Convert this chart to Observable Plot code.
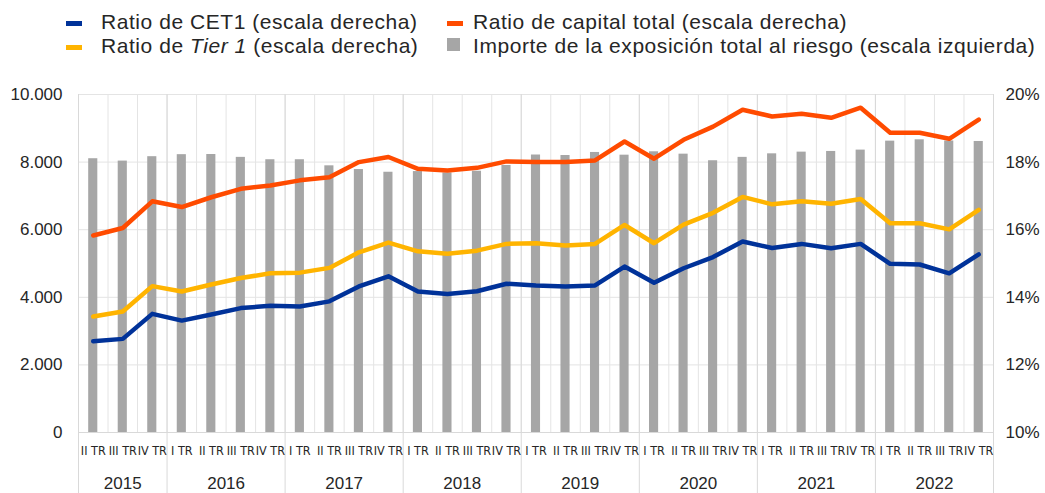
<!DOCTYPE html>
<html>
<head>
<meta charset="utf-8">
<script src="https://cdn.jsdelivr.net/npm/d3@7"></script>
<script src="https://cdn.jsdelivr.net/npm/@observablehq/plot@0.6"></script>
<style>
  html, body { margin: 0; padding: 0; background: #fff; }
  #wrap { position: relative; width: 1045px; height: 493px; font-family: "Liberation Sans", Arial, sans-serif; color: #262626; }
  #legend { position: absolute; left: 0; top: 0; width: 1045px; height: 60px; }
  .item { position: absolute; font-size: 21px; letter-spacing: 0.55px; white-space: nowrap; line-height: 21px; }
  .sw { position: absolute; }
  #chart { position: absolute; left: 0; top: 60px; }
</style>
</head>
<body>
<div id="wrap">
  <div id="legend"></div>
  <div id="chart"></div>
</div>
<script>
// ---- Data ----
const quarterLabels = [
  "II TR","III TR","IV TR",
  "I TR","II TR","III TR","IV TR",
  "I TR","II TR","III TR","IV TR",
  "I TR","II TR","III TR","IV TR",
  "I TR","II TR","III TR","IV TR",
  "I TR","II TR","III TR","IV TR",
  "I TR","II TR","III TR","IV TR",
  "I TR","II TR","III TR","IV TR"
];
const years = ["2015","2016","2017","2018","2019","2020","2021","2022"];
const quartersPerYear = [3,4,4,4,4,4,4,4];

// Importe de la exposición total al riesgo (escala izquierda)
const exposure = [8100, 8030, 8160, 8220, 8225, 8140, 8070, 8070, 7890, 7780, 7700,
  7720, 7680, 7730, 7900, 8210, 8195, 8285, 8205, 8305, 8235, 8040, 8140,
  8245, 8295, 8315, 8355, 8620, 8660, 8625, 8610];
// Ratios (%) (escala derecha)
const cet1 = [12.70, 12.77, 13.51, 13.31, 13.49, 13.68, 13.75, 13.73, 13.88, 14.32, 14.62,
  14.17, 14.10, 14.18, 14.40, 14.35, 14.32, 14.35, 14.91, 14.43, 14.86, 15.19, 15.65,
  15.46, 15.58, 15.45, 15.58, 14.99, 14.97, 14.71, 15.27];
const tier1 = [13.43, 13.58, 14.33, 14.17, 14.38, 14.57, 14.71, 14.73, 14.87, 15.33, 15.62,
  15.36, 15.29, 15.38, 15.58, 15.60, 15.53, 15.58, 16.14, 15.60, 16.15, 16.50, 16.97,
  16.75, 16.84, 16.77, 16.91, 16.19, 16.19, 16.01, 16.59];
const totalCapital = [15.83, 16.05, 16.84, 16.67, 16.96, 17.21, 17.31, 17.46, 17.55, 18.00, 18.15,
  17.80, 17.75, 17.83, 18.02, 18.00, 18.00, 18.05, 18.61, 18.10, 18.66, 19.05, 19.55,
  19.35, 19.43, 19.31, 19.61, 18.87, 18.87, 18.69, 19.26];

const leftTicks = [0, 2000, 4000, 6000, 8000, 10000];
const rightMin = 10, rightMax = 20; // right axis % range
const leftMax = 10000;

const colors = { cet1: "#003299", tier1: "#ffb400", total: "#ff4b00", bars: "#a6a6a6" };

// ---- Build table ----
const data = quarterLabels.map((q, i) => ({
  i, q, exposure: exposure[i], cet1: cet1[i], tier1: tier1[i], total: totalCapital[i]
}));
const toLeft = p => (p - rightMin) / (rightMax - rightMin) * leftMax;

let acc = 0;
const yearData = years.map((y, k) => {
  const start = acc; acc += quartersPerYear[k];
  return { year: y, start, end: acc, mid: (start + acc) / 2 };
});
const yearBounds = [0, ...yearData.map(d => d.end)];

const fmtLeft = d3.formatLocale({ decimal: ",", thousands: ".", grouping: [3], currency: ["", "€"] }).format(",");

// ---- Legend ----
const legendItems = [
  { label: "Ratio de CET1 (escala derecha)", type: "line", color: colors.cet1, x: 66, tx: 101, y: 15 },
  { label: "Ratio de capital total (escala derecha)", type: "line", color: colors.total, x: 447, tx: 473, y: 15 },
  { label: "Ratio de <i>Tier 1</i> (escala derecha)", type: "line", color: colors.tier1, x: 66, tx: 101, y: 39 },
  { label: "Importe de la exposición total al riesgo (escala izquierda)", type: "box", color: colors.bars, x: 447, tx: 473, y: 39 }
];
const legend = document.getElementById("legend");
legendItems.forEach(it => {
  const sw = document.createElement("div");
  sw.className = "sw";
  if (it.type === "line") {
    Object.assign(sw.style, { left: it.x + "px", top: (it.y + 6) + "px", width: "16px", height: "5px", background: it.color });
  } else {
    Object.assign(sw.style, { left: it.x + "px", top: (it.y - 1) + "px", width: "13px", height: "13px", background: it.color });
  }
  legend.appendChild(sw);
  const t = document.createElement("div");
  t.className = "item";
  t.style.left = it.tx + "px";
  t.style.top = (it.y - 4) + "px";
  t.innerHTML = it.label;
  legend.appendChild(t);
});

// ---- Chart ----
const chart = Plot.plot({
  width: 1045,
  height: 433,
  marginTop: 34,
  marginBottom: 61,
  marginLeft: 78,
  marginRight: 52,
  style: { fontFamily: "'Liberation Sans', Arial, sans-serif", fontSize: "17px", color: "#262626", background: "#fff" },
  x: { domain: [0, quarterLabels.length], axis: null },
  y: { domain: [0, leftMax], axis: null },
  marks: [
    Plot.ruleY(leftTicks, { stroke: "#e4e4e4", strokeWidth: 1 }),
    Plot.ruleX(d3.range(quarterLabels.length + 1), { stroke: "#e4e4e4", strokeWidth: 1 }),
    Plot.ruleX(yearBounds, { stroke: "#d9d9d9", strokeWidth: 1, insetBottom: -61 }),
    Plot.rectY(data, { x1: "i", x2: d => d.i + 1, y: "exposure", fill: colors.bars, insetLeft: 10.2, insetRight: 10.2 }),
    Plot.ruleY([0], { stroke: "#d9d9d9", strokeWidth: 1 }),
    Plot.lineY(data, { x: d => d.i + 0.5, y: d => toLeft(d.cet1), stroke: colors.cet1, strokeWidth: 4.5, strokeLinejoin: "round" }),
    Plot.lineY(data, { x: d => d.i + 0.5, y: d => toLeft(d.tier1), stroke: colors.tier1, strokeWidth: 4.5, strokeLinejoin: "round" }),
    Plot.lineY(data, { x: d => d.i + 0.5, y: d => toLeft(d.total), stroke: colors.total, strokeWidth: 4.5, strokeLinejoin: "round" }),
    Plot.axisY({ anchor: "left", label: null, ticks: leftTicks, tickSize: 0, tickPadding: 16, tickFormat: fmtLeft, fontSize: 17 }),
    Plot.axisY({ anchor: "right", label: null, ticks: leftTicks, tickSize: 0, tickPadding: 12, fontSize: 17,
      tickFormat: d => `${Math.round(rightMin + d / leftMax * (rightMax - rightMin))}%` }),
    Plot.axisX({ label: null, ticks: data.map(d => d.i + 0.5), tickSize: 0, tickPadding: 14, fontSize: 12.5,
      fontFamily: "'Liberation Sans Narrow', 'DejaVu Sans Condensed', 'Roboto Condensed', sans-serif",
      tickFormat: v => quarterLabels[Math.floor(v)] }),
    Plot.text(yearData, { x: "mid", text: "year", frameAnchor: "bottom", dy: 51, fontSize: 17, lineAnchor: "middle" })
  ]
});
document.getElementById("chart").appendChild(chart);
</script>
</body>
</html>
